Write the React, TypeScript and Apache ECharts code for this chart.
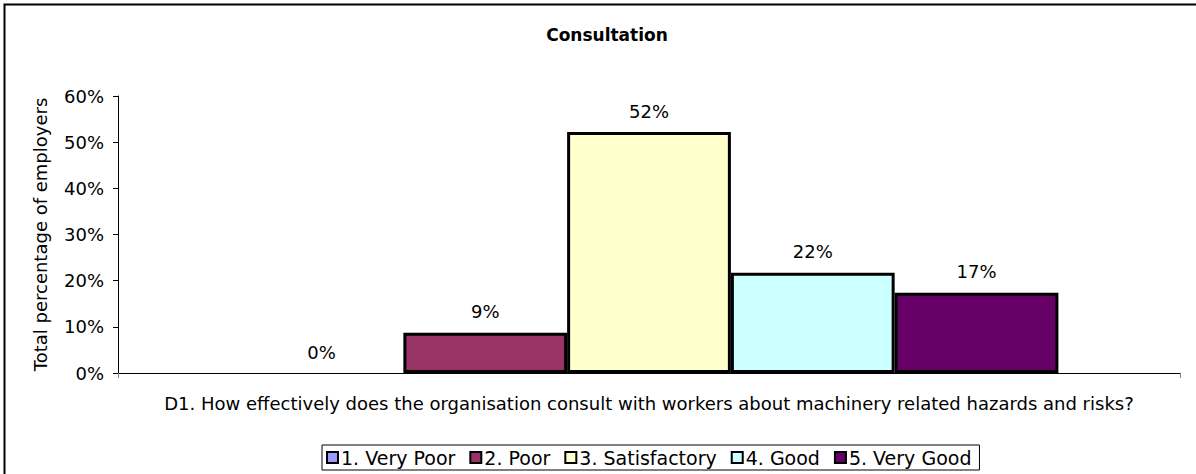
import React, { useEffect, useRef } from "react";
import * as echarts from "echarts";

const categories = ["D1. How effectively does the organisation consult with workers about machinery related hazards and risks?"];
const seriesNames = ["1. Very Poor", "2. Poor", "3. Satisfactory", "4. Good", "5. Very Good"];
const seriesValues = [0, 8.7, 52.2, 21.7, 17.4];
const seriesColors = ["#9999FF", "#993366", "#FFFFCC", "#CCFFFF", "#660066"];
const yTicks = [0, 10, 20, 30, 40, 50, 60];

const FONT = "DejaVu Sans, Arial, sans-serif";

export default function App() {
  const ref = useRef<HTMLDivElement>(null);
  useEffect(() => {
    document.body.style.margin = "0";
    const chart = echarts.init(ref.current!, null, { renderer: "svg" });
    chart.setOption({
      animation: false,
      backgroundColor: "#ffffff",
      textStyle: { fontFamily: FONT, color: "#000" },
      title: {
        text: "Consultation",
        left: 602,
        textAlign: "center",
        top: 21,
        textStyle: { fontFamily: FONT, fontSize: 17, fontWeight: "bold", color: "#000" },
      },
      graphic: [
        {
          type: "rect",
          shape: { x: 4.5, y: 4.5, width: 1200, height: 480 },
          style: { fill: "none", stroke: "#000", lineWidth: 2 },
          silent: true,
          z: 100,
        },
      ],
      legend: {
        bottom: 4,
        left: 322,
        data: seriesNames,
        itemWidth: 11,
        itemHeight: 11,
        itemGap: 14,
        borderColor: "#000",
        borderWidth: 1,
        padding: [3, 8, 3, 4],
        itemStyle: { borderColor: "#000", borderWidth: 2 },
        textStyle: { fontFamily: FONT, fontSize: 19, color: "#000", padding: [0, 0, 0, -2] },
        selectedMode: false,
        icon: "rect",
      },
      grid: { left: 118, right: 16, top: 96, bottom: 101, containLabel: false },
      xAxis: {
        type: "category",
        data: categories,
        axisLine: { lineStyle: { color: "#000", width: 1 } },
        axisTick: { show: true, length: 5, lineStyle: { color: "#808080" } },
        axisLabel: { fontFamily: FONT, fontSize: 18, color: "#000", margin: 21 },
      },
      yAxis: {
        type: "value",
        min: 0,
        max: 60,
        interval: 10,
        name: "Total percentage of employers",
        nameLocation: "middle",
        nameGap: 69,
        nameRotate: 90,
        nameTextStyle: { fontFamily: FONT, fontSize: 18, color: "#000" },
        axisLine: { show: true, lineStyle: { color: "#000", width: 1 } },
        axisTick: { show: true, length: 5, lineStyle: { color: "#000" } },
        splitLine: { show: false },
        axisLabel: {
          fontFamily: FONT,
          fontSize: 18,
          color: "#000",
          margin: 14,
          formatter: (v: number) => (yTicks.includes(v) ? v + "%" : ""),
        },
      },
      series: seriesNames.map((name, i) => ({
        name,
        type: "bar",
        data: [
          seriesValues[i] === 0
            ? { value: seriesValues[i], itemStyle: { borderWidth: 0 } }
            : seriesValues[i],
        ],
        barGap: "0%",
        barCategoryGap: "22.9%",
        itemStyle: { color: seriesColors[i], borderColor: "#000", borderWidth: 3 },
        label: {
          show: true,
          position: "top",
          distance: 12,
          fontFamily: FONT,
          fontSize: 18,
          color: "#000",
          formatter: (p: any) => Math.round(p.value) + "%",
        },
      })),
    });
    return () => chart.dispose();
  }, []);
  return <div ref={ref} style={{ width: 1196, height: 474 }} />;
}
